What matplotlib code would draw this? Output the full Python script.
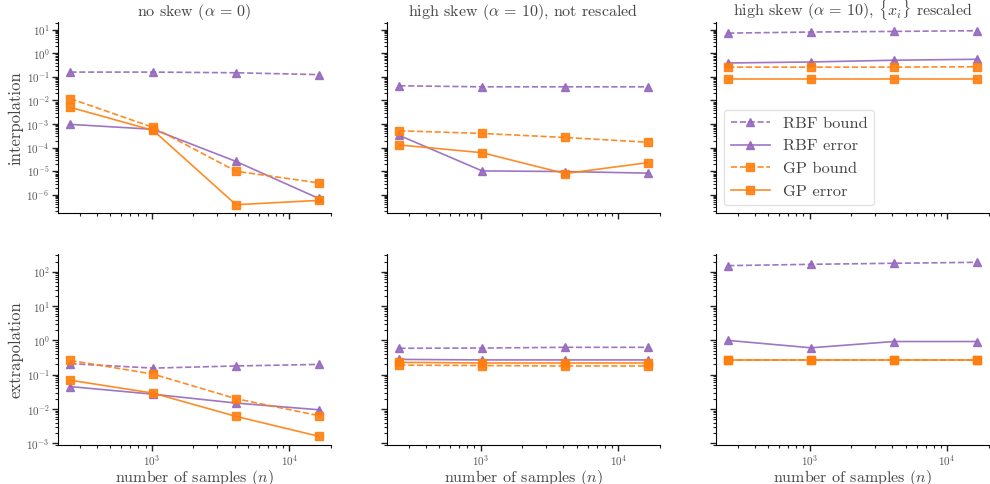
import matplotlib
matplotlib.use("Agg")
import matplotlib.pyplot as plt
import numpy as np
from matplotlib.ticker import LogLocator, NullFormatter

plt.rcParams.update({
    "font.family": "serif",
    "font.serif": ["cmr10", "DejaVu Serif"],
    "mathtext.fontset": "cm",
    "axes.formatter.use_mathtext": True,
    "axes.unicode_minus": False,
    "text.color": "#444444",
    "axes.labelcolor": "#444444",
    "xtick.color": "#222222",
    "ytick.color": "#222222",
    "xtick.labelcolor": "#555555",
    "ytick.labelcolor": "#555555",
})

n_samples = [256, 1024, 4096, 16384]

col_titles = [r"no skew ($\alpha\,=\,0$)",
              r"high skew ($\alpha\,=\,10$), not rescaled",
              r"high skew ($\alpha\,=\,10$), $\{x_i\}$ rescaled"]
row_labels = ["interpolation", "extrapolation"]
series_names = ["RBF bound", "RBF error", "GP bound", "GP error"]

# interpolation row
interp_rbf_bound = [[0.16, 0.16, 0.15, 0.125],
                    [0.042, 0.038, 0.038, 0.038],
                    [7.2, 8.0, 8.5, 9.1]]
interp_rbf_error = [[9.7e-4, 6.0e-4, 2.6e-5, 7.0e-7],
                    [3.3e-4, 1.03e-5, 9.7e-6, 8.3e-6],
                    [0.39, 0.43, 0.51, 0.56]]
interp_gp_bound = [[1.2e-2, 7.2e-4, 1.0e-5, 3.2e-6],
                   [5.2e-4, 4.0e-4, 2.7e-4, 1.7e-4],
                   [0.26, 0.26, 0.26, 0.27]]
interp_gp_error = [[5.1e-3, 5.4e-4, 3.8e-7, 5.8e-7],
                   [1.3e-4, 6.1e-5, 8.0e-6, 2.3e-5],
                   [0.085, 0.085, 0.085, 0.085]]

# extrapolation row
extrap_rbf_bound = [[0.21, 0.156, 0.18, 0.20],
                    [0.59, 0.60, 0.63, 0.63],
                    [152, 166, 178, 190]]
extrap_rbf_error = [[0.045, 0.027, 0.0149, 0.0095],
                    [0.28, 0.27, 0.27, 0.27],
                    [1.0, 0.61, 0.93, 0.93]]
extrap_gp_bound = [[0.26, 0.104, 0.020, 0.0064],
                   [0.19, 0.185, 0.18, 0.18],
                   [0.27, 0.27, 0.27, 0.27]]
extrap_gp_error = [[0.069, 0.029, 0.0061, 0.0016],
                   [0.23, 0.22, 0.22, 0.22],
                   [0.27, 0.27, 0.27, 0.27]]

rows = [
    [interp_rbf_bound, interp_rbf_error, interp_gp_bound, interp_gp_error],
    [extrap_rbf_bound, extrap_rbf_error, extrap_gp_bound, extrap_gp_error],
]

purple = "#9467bd"
orange = "#ff7f0e"
styles = [
    dict(color=purple, ls="--", marker="^"),
    dict(color=purple, ls="-", marker="^"),
    dict(color=orange, ls="--", marker="s"),
    dict(color=orange, ls="-", marker="s"),
]

fig, axes = plt.subplots(2, 3, figsize=(9.9, 4.84), dpi=100, sharex=True, sharey="row")
fig.subplots_adjust(left=0.0586, right=0.999, top=0.9545, bottom=0.0806,
                    wspace=0.204, hspace=0.21)

for r in range(2):
    for c in range(3):
        ax = axes[r, c]
        for s in range(4):
            ax.plot(n_samples, rows[r][s][c], label=series_names[s], lw=1.2,
                    ms=6, alpha=0.9, **styles[s])
        ax.set_xscale("log")
        ax.set_yscale("log")
        for side in ["top", "right"]:
            ax.spines[side].set_visible(False)
        ax.yaxis.set_major_locator(LogLocator(base=10, numticks=20))
        ax.yaxis.set_minor_locator(LogLocator(base=10, subs=np.arange(2, 10) * 1.0, numticks=20))
        ax.yaxis.set_minor_formatter(NullFormatter())
        ax.tick_params(which="major", length=4, width=1, labelsize=8, pad=2)
        ax.tick_params(which="minor", length=2.5, width=0.8)
        if r == 0:
            ax.set_title(col_titles[c], fontsize=11.5, pad=3)
            ax.tick_params(axis="x", labelbottom=False)
        else:
            ax.set_xlabel(r"number of samples ($n$)", fontsize=11.5, labelpad=0)
        if c == 0:
            ax.set_ylabel(row_labels[r], fontsize=12, labelpad=2)

leg = axes[0, 2].legend(loc="lower left", fontsize=11.8, handlelength=2.4,
                        frameon=True, fancybox=True)
leg.get_frame().set_edgecolor("#dddddd")

fig.savefig("out.png", dpi=100)
